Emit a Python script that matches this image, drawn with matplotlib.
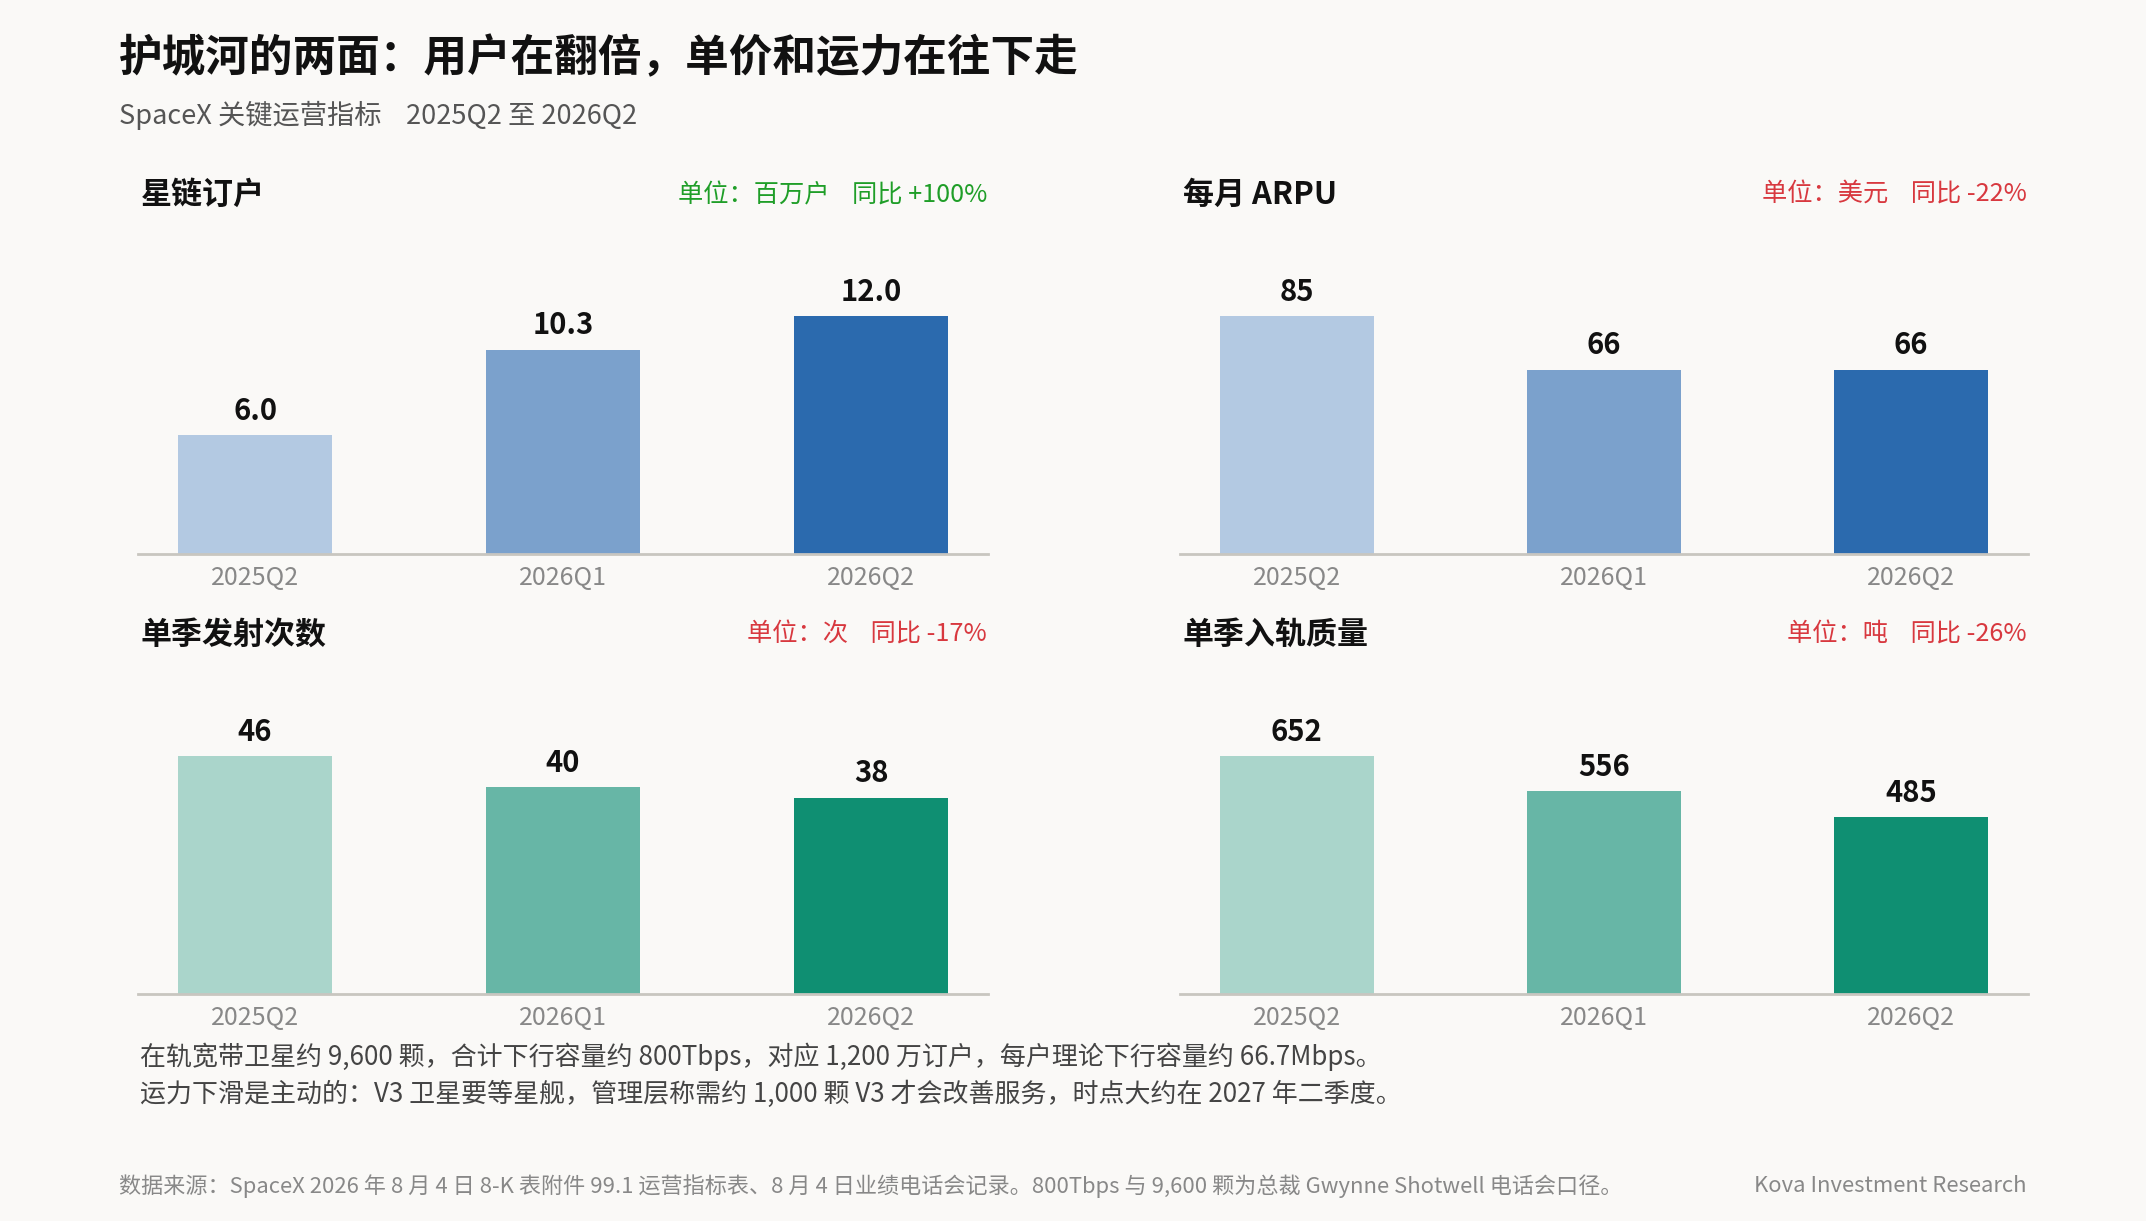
import matplotlib
matplotlib.use('Agg')
import matplotlib.pyplot as plt

plt.rcParams['font.family'] = ['Noto Sans CJK SC', 'DejaVu Sans']

# data
quarters = ['2025Q2', '2026Q1', '2026Q2']
subscribers = [6.0, 10.3, 12.0]      # 百万户
arpu = [85, 66, 66]                  # 美元
launches = [46, 40, 38]              # 次
mass = [652, 556, 485]               # 吨

titles = ['星链订户', '每月 ARPU', '单季发射次数', '单季入轨质量']
units = ['单位：百万户    同比 +100%', '单位：美元    同比 -22%',
         '单位：次    同比 -17%', '单位：吨    同比 -26%']
label_fmt = ['{:.1f}', '{:.0f}', '{:.0f}', '{:.0f}']

blues = ['#b3c9e2', '#7ba1cc', '#2b6aae']
greens = ['#aad5cb', '#67b6a6', '#0f8f72']
green_txt = '#1f9e28'
red_txt = '#d8383f'
bg = '#faf9f7'

W, H = 2146, 1221
fig = plt.figure(figsize=(W / 100, H / 100), dpi=100, facecolor=bg)

def fx(px):
    return px / W

def fy(py):
    return 1 - py / H

# panel geometry in pixels: (left, right, baseline)
panels = [(138, 988, 554), (1180, 2028, 554), (138, 988, 994), (1180, 2028, 994)]
ax_h = 314
series = [subscribers, arpu, launches, mass]
palettes = [blues, blues, greens, greens]
unit_colors = [green_txt, red_txt, red_txt, red_txt]

for i, (l, r, base) in enumerate(panels):
    ax = fig.add_axes([fx(l), fy(base), (r - l) / W, ax_h / H])
    ax.set_facecolor(bg)
    vals = series[i]
    xs = range(len(quarters))
    bars = ax.bar(xs, vals, width=0.5, color=palettes[i])
    ax.set_xlim(-0.38, 2.38)
    ax.set_ylim(0, max(vals) * 1.322)
    for b, v in zip(bars, vals):
        ax.annotate(label_fmt[i].format(v), (b.get_x() + b.get_width() / 2, v),
                    xytext=(0, 7), textcoords='offset points', ha='center', va='bottom',
                    fontsize=21, fontweight='bold', color='#111111')
    ax.set_xticks(list(xs))
    ax.set_xticklabels(quarters, fontsize=18, color='#888888')
    ax.tick_params(axis='x', length=0, pad=8)
    ax.set_yticks([])
    for s in ['top', 'right', 'left']:
        ax.spines[s].set_visible(False)
    ax.spines['bottom'].set_color('#c8c6c0')
    ax.spines['bottom'].set_linewidth(2)

    ty = base - 359
    fig.text(fx(l + 3), fy(ty), titles[i], fontsize=22.3, fontweight='bold',
             color='#111111', ha='left', va='center')
    fig.text(fx(r - 1), fy(ty), units[i], fontsize=18.2, color=unit_colors[i],
             ha='right', va='center')

fig.text(fx(119), fy(58), '护城河的两面：用户在翻倍，单价和运力在往下走', fontsize=31.4,
         fontweight='bold', color='#111111', ha='left', va='center')
fig.text(fx(119), fy(115), 'SpaceX 关键运营指标    2025Q2 至 2026Q2', fontsize=19.6,
         color='#555555', ha='left', va='center')

fig.text(fx(140), fy(1057),
         '在轨宽带卫星约 9,600 颗，合计下行容量约 800Tbps，对应 1,200 万订户，每户理论下行容量约 66.7Mbps。',
         fontsize=18.7, color='#444444', ha='left', va='center')
fig.text(fx(140), fy(1094),
         '运力下滑是主动的：V3 卫星要等星舰，管理层称需约 1,000 颗 V3 才会改善服务，时点大约在 2027 年二季度。',
         fontsize=18.7, color='#444444', ha='left', va='center')

fig.text(fx(119), fy(1186),
         '数据来源：SpaceX 2026 年 8 月 4 日 8-K 表附件 99.1 运营指标表、8 月 4 日业绩电话会记录。800Tbps 与 9,600 颗为总裁 Gwynne Shotwell 电话会口径。',
         fontsize=15.9, color='#888888', ha='left', va='center')
fig.text(fx(2027), fy(1186), 'Kova Investment Research', fontsize=15.9,
         color='#888888', ha='right', va='center')

fig.savefig('out.png', dpi=100, facecolor=bg)
